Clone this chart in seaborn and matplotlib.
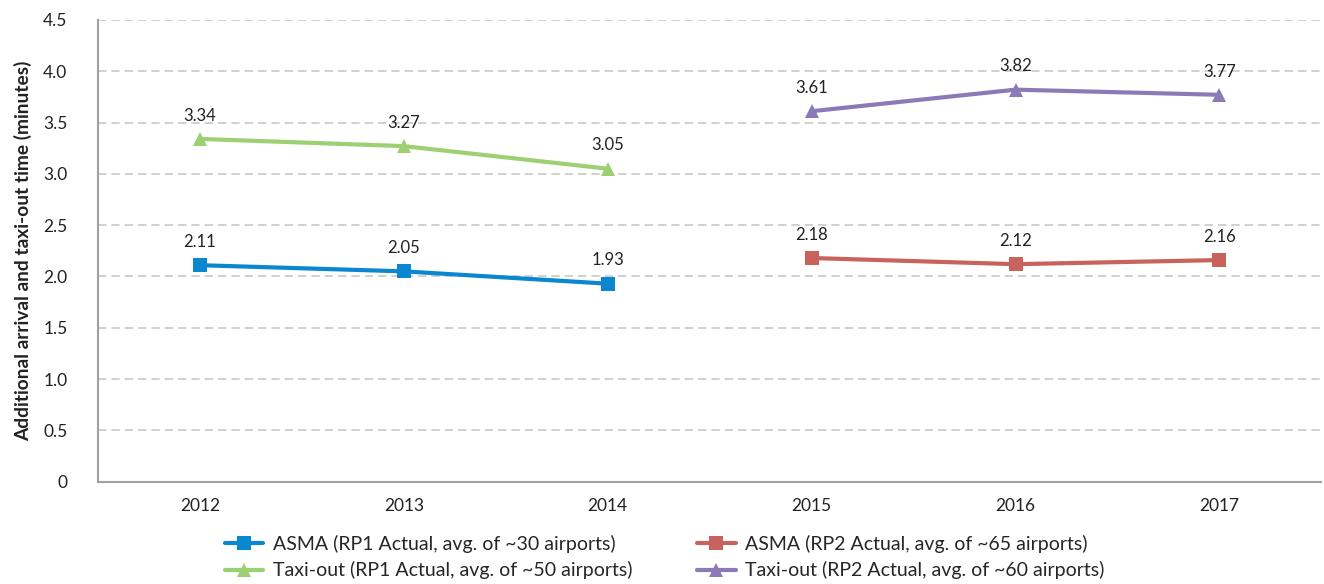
import matplotlib
matplotlib.use("Agg")
import matplotlib.pyplot as plt
import seaborn as sns
import pandas as pd

years = ["2012", "2013", "2014", "2015", "2016", "2017"]
asma_rp1_years = ["2012", "2013", "2014"]
asma_rp1 = [2.11, 2.05, 1.93]
taxi_rp1_years = ["2012", "2013", "2014"]
taxi_rp1 = [3.34, 3.27, 3.05]
asma_rp2_years = ["2015", "2016", "2017"]
asma_rp2 = [2.18, 2.12, 2.16]
taxi_rp2_years = ["2015", "2016", "2017"]
taxi_rp2 = [3.61, 3.82, 3.77]

series = [
    ("ASMA (RP1 Actual, avg. of ~30 airports)", asma_rp1_years, asma_rp1, "#0A87D0", "s"),
    ("Taxi-out (RP1 Actual, avg. of ~50 airports)", taxi_rp1_years, taxi_rp1, "#9DCF73", "^"),
    ("ASMA (RP2 Actual, avg. of ~65 airports)", asma_rp2_years, asma_rp2, "#C8625D", "s"),
    ("Taxi-out (RP2 Actual, avg. of ~60 airports)", taxi_rp2_years, taxi_rp2, "#8C7AB8", "^"),
]

sns.set_theme(style="white")
plt.rcParams['font.family'] = ['Lato', 'DejaVu Sans']

fig = plt.figure(figsize=(13.24, 5.84), dpi=100)
ax = fig.add_axes([0.074, 0.175, 0.924, 0.791])

for label, yrs, vals, color, marker in series:
    df = pd.DataFrame({"x": [years.index(y) for y in yrs], "y": vals})
    sns.lineplot(data=df, x="x", y="y", ax=ax, color=color, marker=marker,
                 markersize=10, linewidth=3, markeredgewidth=0, label=label)
    for xi, yi in zip(df["x"], df["y"]):
        ax.annotate(f"{yi:.2f}", (xi, yi), xytext=(0, 11), textcoords="offset points",
                    ha="center", va="bottom", fontsize=12, color="#222222")

ax.set_xlim(-0.5, 5.5)
ax.set_ylim(0, 4.5)
ax.set_xticks(range(len(years)))
ax.set_xticklabels(years, fontsize=12.5, color="#222222")
yt = [0, 0.5, 1.0, 1.5, 2.0, 2.5, 3.0, 3.5, 4.0, 4.5]
ax.set_yticks(yt)
ax.set_yticklabels(["0"] + [f"{v:.1f}" for v in yt[1:]], fontsize=12.5, color="#222222")
ax.tick_params(axis="x", length=0, pad=12)
ax.tick_params(axis="y", length=0, pad=22)
ax.set_xlabel("")
ax.set_ylabel("Additional arrival and taxi-out time (minutes)", fontsize=13.8,
              fontweight="bold", color="#222222", labelpad=8)
ax.yaxis.grid(True, linestyle=(0, (5, 3)), color="#C8C8C8", linewidth=1.2)
ax.xaxis.grid(False)
for s in ["top", "right"]:
    ax.spines[s].set_visible(False)
for s in ["left", "bottom"]:
    ax.spines[s].set_color("#A0A0A0")
    ax.spines[s].set_linewidth(1.5)

handles, labels = ax.get_legend_handles_labels()
ax.get_legend().remove()
fig.legend(handles, labels, loc="upper center", bbox_to_anchor=(0.502, 0.108),
           ncol=2, frameon=False, fontsize=14, columnspacing=3.3,
           handlelength=2.0, handletextpad=0.5, labelspacing=0.45,
           borderpad=0.2)

fig.savefig("out.png", dpi=100)
